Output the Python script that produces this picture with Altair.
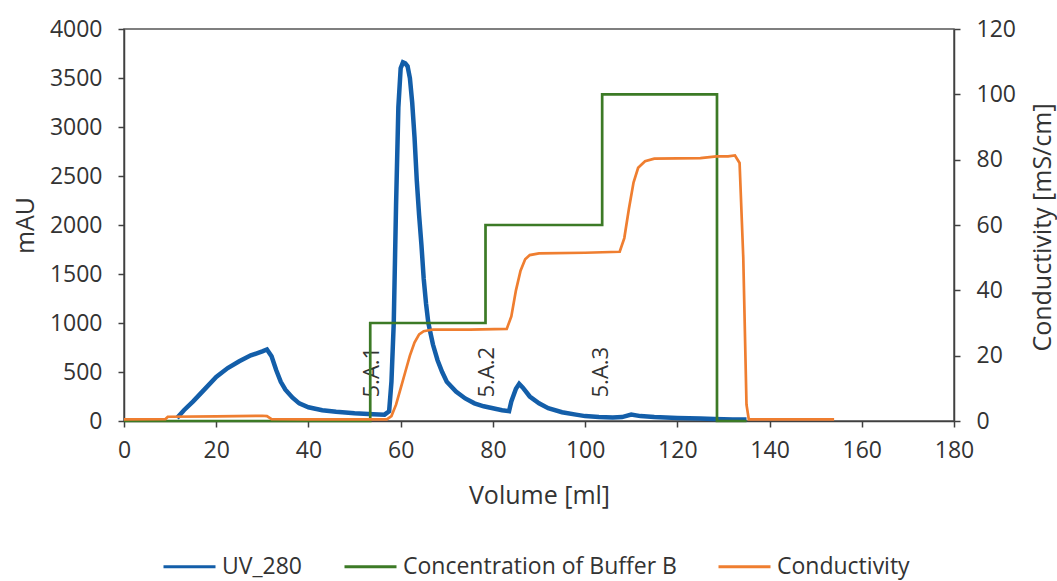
import altair as alt
import pandas as pd

# ---- data ----
uv_ml = [11.5, 13, 15, 17, 20, 22.5, 25, 27.5, 30, 31, 32, 33, 34, 35, 36.5, 38, 40, 43, 46, 50,
         54, 56.5, 57.5, 58, 58.5, 59, 59.5, 60, 60.5, 61, 61.5, 62, 62.5, 63, 63.5, 64, 64.5,
         65, 65.5, 66, 67, 68, 69, 70, 72, 74, 76, 78, 80, 82, 83.5, 84, 85, 85.7, 86.5, 88,
         90, 92, 95, 98, 100, 103, 106, 108, 110, 112, 115, 120, 125, 128, 132, 135]
uv_mau = [30, 110, 200, 300, 450, 540, 610, 670, 710, 730, 660, 520, 400, 320, 240, 180, 140, 110, 95, 80,
          70, 65, 100, 400, 1000, 2200, 3200, 3600, 3660, 3650, 3620, 3500, 3250, 2900, 2450, 2100, 1800,
          1450, 1200, 1000, 780, 620, 500, 400, 300, 230, 180, 150, 130, 110, 100, 200, 330, 380, 340, 250,
          180, 130, 90, 65, 50, 40, 35, 40, 65, 50, 40, 30, 25, 20, 15, 15]

buf_ml = [0, 53.4, 53.4, 78.4, 78.4, 103.7, 103.7, 128.6, 128.6, 135]
buf_pct = [0, 0, 30, 30, 60, 60, 100, 100, 0, 0]

cond_ml = [0, 9, 9.5, 20, 30, 31, 32, 40, 57, 58, 59, 60, 61, 62, 63, 64, 65, 67, 75, 83,
           84, 85, 86, 87, 88, 90, 100, 107.5, 108.5, 109.5, 110.5, 111.5, 113, 115, 125, 128.5,
           131, 132.5, 133.5, 134.3, 135, 135.5, 154]
cond_ms = [0.5, 0.6, 1.3, 1.4, 1.6, 1.5, 0.6, 0.5, 0.5, 1.5, 5, 10, 15, 20, 24, 26.5, 27.5, 28, 28, 28.2,
           32, 40, 46, 49.5, 50.8, 51.3, 51.5, 51.8, 56, 65, 73, 77.5, 79.5, 80.3, 80.5, 81,
           81, 81.3, 79, 50, 5, 0.5, 0.5]

ann_ml = [53.8, 78.7, 103.4]
ann_mau = [240, 240, 240]
ann_text = ["5.A.1", "5.A.2", "5.A.3"]

series_names = ["UV_280", "Concentration of Buffer B", "Conductivity"]
series_colors = ["#135ea9", "#3c7a26", "#ef7e30"]

x_ticks = list(range(0, 181, 20))
left_ticks = list(range(0, 4001, 500))
right_ticks = list(range(0, 121, 20))

FONT = "Open Sans"
TXT = "#333333"

uv_df = pd.DataFrame({"ml": uv_ml, "value": uv_mau, "series": series_names[0],
                      "idx": range(len(uv_ml))})
buf_df = pd.DataFrame({"ml": buf_ml, "value": buf_pct, "series": series_names[1],
                       "idx": range(len(buf_ml))})
cond_df = pd.DataFrame({"ml": cond_ml, "value": cond_ms, "series": series_names[2],
                        "idx": range(len(cond_ml))})
right_df = pd.concat([buf_df, cond_df], ignore_index=True)
ann_df = pd.DataFrame({"ml": ann_ml, "value": ann_mau, "label": ann_text})

color = alt.Color("series:N",
                  scale=alt.Scale(domain=series_names, range=series_colors),
                  legend=alt.Legend(title=None, orient="none", direction="horizontal",
                                    legendX=38, legendY=510,
                                    symbolType="stroke", symbolSize=2704,
                                    symbolStrokeWidth=3, labelOffset=5,
                                    columnPadding=35, labelLimit=500,
                                    labelFontSize=23, labelFont=FONT, labelColor=TXT))

xenc = alt.X("ml:Q", scale=alt.Scale(domain=[0, 180], nice=False),
             axis=alt.Axis(values=x_ticks, title="Volume [ml]", grid=False, labelFlush=False,
                           tickSize=6, labelPadding=12, titleX=415, titleY=74,
                           titleBaseline="middle", titleAlign="center"))

left_axis = alt.Axis(values=left_ticks, title="mAU", grid=False, orient="left", format="d",
                     tickSize=6, labelPadding=16, titleAngle=270, titleX=-99, titleY=196,
                     titleAlign="center", titleBaseline="middle")
right_axis = alt.Axis(values=right_ticks, title="Conductivity [mS/cm]", grid=False,
                      orient="right", format="d", tickSize=6, labelPadding=16, titleAngle=270,
                      titleX=88, titleY=198, titleAlign="center", titleBaseline="middle")

uv_line = alt.Chart(uv_df).mark_line(strokeWidth=4.5).encode(
    x=xenc,
    y=alt.Y("value:Q", scale=alt.Scale(domain=[0, 4000], nice=False), axis=left_axis),
    color=color,
    order="idx:Q",
)

ann = alt.Chart(ann_df).mark_text(angle=270, align="left", baseline="middle",
                                  fontSize=22, font=FONT, color=TXT).encode(
    x=alt.X("ml:Q"),
    y=alt.Y("value:Q"),
    text="label:N",
)

left = alt.layer(uv_line, ann)

right = alt.Chart(right_df).mark_line(strokeWidth=2.7).encode(
    x=alt.X("ml:Q"),
    y=alt.Y("value:Q", scale=alt.Scale(domain=[0, 120], nice=False), axis=right_axis),
    color=color,
    detail="series:N",
    order="idx:Q",
)

chart = alt.layer(left, right).resolve_scale(y="independent").properties(
    width=830, height=392,
    padding={"left": 124, "top": 29, "right": 103, "bottom": 160},
    autosize=alt.AutoSizeParams(type="none"),
    background="white",
).configure_view(stroke="#555555", strokeWidth=1.5).configure_axis(
    domainColor="#404040", tickColor="#404040", domainWidth=1.5, tickWidth=1.5,
    labelFont=FONT, labelFontSize=23, labelColor=TXT,
    titleFont=FONT, titleFontSize=25, titleFontWeight="normal", titleColor=TXT,
)

chart.save("out.html", embed_options={"renderer": "svg", "actions": False})
